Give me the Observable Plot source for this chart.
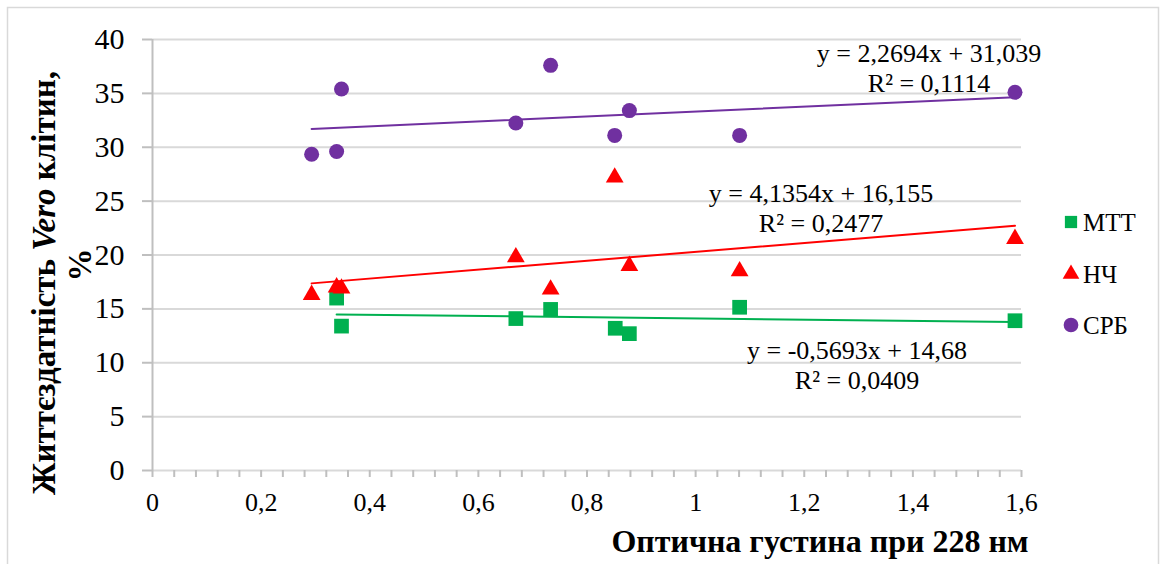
<!DOCTYPE html>
<html lang="uk">
<head>
<meta charset="utf-8">
<title>Життєздатність Vero клітин</title>
<script src="https://cdn.jsdelivr.net/npm/d3@7"></script>
<script src="https://cdn.jsdelivr.net/npm/@observablehq/plot@0.6"></script>
<style>
  html, body { margin: 0; padding: 0; background: #fff; }
  #chart svg { display: block; }
</style>
</head>
<body>
<div id="chart"></div>
<script>
// Series names and colours
const seriesNames = ["МТТ", "НЧ", "СРБ"];
const seriesColors = ["#00B050", "#FF0000", "#7030A0"];
const seriesSymbols = ["square", "triangle", "circle"];

// Optical density at 228 nm (x) and Vero cell viability, % (y)
const odMTT = [0.339, 0.348, 0.669, 0.733, 0.852, 0.878, 1.081, 1.588];
const viabilityMTT = [16.0, 13.4, 14.1, 14.95, 13.2, 12.7, 15.15, 13.9];

const odNCh = [0.293, 0.339, 0.348, 0.669, 0.733, 0.851, 0.878, 1.081, 1.588];
const viabilityNCh = [16.3, 17.0, 16.9, 19.8, 16.8, 27.2, 19.0, 18.5, 21.5];

const odSRB = [0.293, 0.339, 0.348, 0.669, 0.733, 0.851, 0.878, 1.081, 1.588];
const viabilitySRB = [29.35, 29.6, 35.4, 32.25, 37.6, 31.1, 33.4, 31.1, 35.1];

// Linear trendlines: y = slope * x + intercept, with R²
const trendSlopes = [-0.5693, 4.1354, 2.2694];
const trendIntercepts = [14.68, 16.155, 31.039];
const trendR2 = [0.0409, 0.2477, 0.1114];

// Axis ticks
const xMajorTicks = [0, 0.2, 0.4, 0.6, 0.8, 1, 1.2, 1.4, 1.6];
const xMinorTicks = d3.range(0, 41).map(i => i * 0.04);
const yTicks = [0, 5, 10, 15, 20, 25, 30, 35, 40];

// Layout
const W = 1164, H = 564;
const serif = "'Liberation Serif', 'Times New Roman', serif";
const gridColor = "#d9d9d9";
const axisColor = "#bfbfbf";
// Offsets of each trendline equation label from the right end of its line
const labelDx = [-158, -194, -86];
const labelDy = [42, -18, -30];

const comma = v => String(v).replace(".", ",");

const xs = [odMTT, odNCh, odSRB];
const ys = [viabilityMTT, viabilityNCh, viabilitySRB];

const points = seriesNames.flatMap((name, i) =>
  xs[i].map((x, j) => ({series: name, x, y: ys[i][j]}))
);

const trends = seriesNames.map((name, i) => {
  const [x0, x1] = d3.extent(xs[i]);
  const f = x => trendSlopes[i] * x + trendIntercepts[i];
  return {series: name, i, x0, x1, y0: f(x0), y1: f(x1)};
});

const trendLines = trends.flatMap(t => [
  {series: t.series, x: t.x0, y: t.y0},
  {series: t.series, x: t.x1, y: t.y1}
]);

const colorOf = Object.fromEntries(seriesNames.map((n, i) => [n, seriesColors[i]]));

const marks = [
  Plot.gridY(yTicks, {stroke: gridColor, strokeOpacity: 1, strokeWidth: 2}),
  Plot.ruleX([0], {stroke: axisColor, strokeWidth: 2}),
  Plot.axisY(yTicks, {
    anchor: "left", tickSize: 10, tickPadding: 18, fontSize: 30,
    stroke: axisColor, strokeWidth: 2, fill: "#000", label: null,
    tickFormat: comma
  }),
  Plot.axisX(xMinorTicks, {
    anchor: "bottom", tickSize: 7, stroke: axisColor, strokeWidth: 2,
    tickFormat: () => "", label: null
  }),
  Plot.axisX(xMajorTicks, {
    anchor: "bottom", tickSize: 0, tickPadding: 22, fontSize: 26,
    fill: "#000", label: null, tickFormat: comma
  }),
  Plot.line(trendLines, {
    x: "x", y: "y", z: "series",
    stroke: d => colorOf[d.series], strokeWidth: 2
  }),
  ...seriesNames.map((name, i) =>
    Plot.dot(points.filter(p => p.series === name), {
      x: "x", y: "y",
      symbol: () => seriesSymbols[i],
      fill: seriesColors[i],
      r: [8.3, 6.6, 7.5][i]
    })
  ),
  ...trends.map(t =>
    Plot.text([t], {
      x: "x1", y: "y1",
      text: d => `y = ${comma(trendSlopes[d.i])}x + ${comma(trendIntercepts[d.i])}\nR² = ${comma(trendR2[d.i])}`,
      dx: labelDx[t.i], dy: labelDy[t.i],
      fontSize: 26, lineHeight: 1.15, fill: "#000",
      textAnchor: "middle", lineAnchor: "middle"
    })
  )
];

const chart = Plot.plot({
  width: W,
  height: H,
  marginLeft: 152,
  marginRight: 143,
  marginTop: 39,
  marginBottom: 94,
  style: {fontFamily: serif, background: "#fff", color: "#000", overflow: "hidden"},
  x: {domain: [0, 1.6], label: null},
  y: {domain: [0, 40], label: null},
  symbol: {domain: seriesNames, range: seriesSymbols},
  marks
});

const svg = d3.select(chart);

// Outer chart frame
svg.insert("rect", ":first-child")
  .attr("x", 7.5).attr("y", 7.5)
  .attr("width", 1151).attr("height", 620)
  .attr("fill", "none").attr("stroke", gridColor).attr("stroke-width", 1.5);

// X axis title
svg.append("text")
  .attr("x", 820).attr("y", 552)
  .attr("text-anchor", "middle")
  .attr("font-family", serif).attr("font-weight", "bold").attr("font-size", 32)
  .text("Оптична густина при 228 нм");

// Y axis title (two lines, rotated)
const yTitleFont = 33;
const yTitle = svg.append("text")
  .attr("transform", "translate(44,283) rotate(-90)")
  .attr("text-anchor", "middle")
  .attr("font-family", serif).attr("font-weight", "bold").attr("font-size", yTitleFont);
const line1 = yTitle.append("tspan").attr("x", 0).attr("y", 11);
line1.append("tspan").text("Життєздатність ");
line1.append("tspan").attr("font-style", "italic").text("Vero");
line1.append("tspan").text(" клітин,");
yTitle.append("tspan").attr("x", 18).attr("y", 47).text("%");

// Legend
const legend = svg.append("g")
  .attr("font-family", serif).attr("font-size", 25).attr("text-anchor", "start");
const legendY = [222, 274, 325];
const legendShapes = [d3.symbolSquare, d3.symbolTriangle, d3.symbolCircle];
const legendSizes = [150, 120, 170];
seriesNames.forEach((name, i) => {
  const g = legend.append("g").attr("transform", `translate(1071,${legendY[i]})`);
  g.append("path")
    .attr("d", d3.symbol(legendShapes[i], legendSizes[i])())
    .attr("fill", seriesColors[i]);
  g.append("text").attr("x", 12).attr("dy", "0.35em").attr("fill", "#000").text(name);
});

document.getElementById("chart").append(chart);
</script>
</body>
</html>
